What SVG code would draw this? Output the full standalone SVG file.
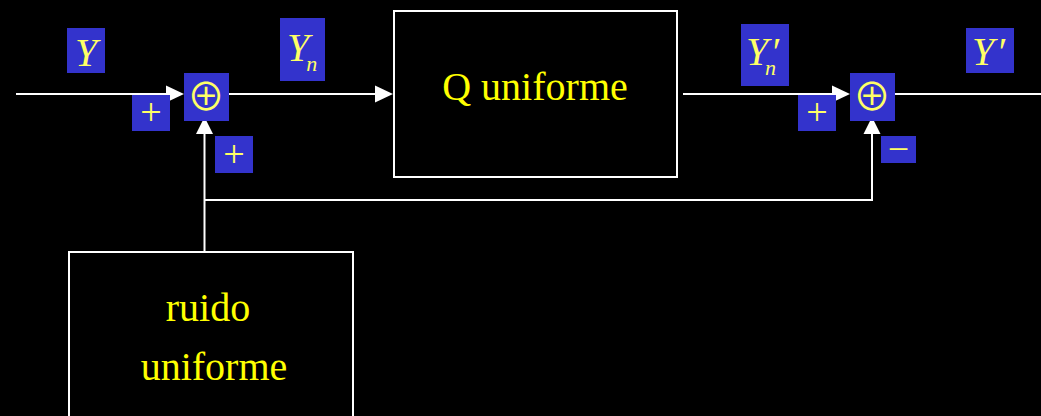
<svg xmlns="http://www.w3.org/2000/svg" width="1041" height="416" viewBox="0 0 1041 416">
<style>
.ln{stroke:#fff;stroke-width:2;fill:none}
.ah{fill:#fff}
.box{fill:#000;stroke:#fff;stroke-width:2}
.tag{fill:#3333cc}
.big{font-family:"Liberation Serif",serif;font-size:40px;fill:#ffff00;text-anchor:middle}
.it{font-family:"Liberation Serif",serif;font-style:italic;fill:#ffff66}
.sym{font-family:"Liberation Serif",serif;font-size:38px;fill:#ffff66;text-anchor:middle}
.op{font-family:"Noto Sans CJK JP","DejaVu Sans",sans-serif;font-size:38px;fill:#ffff66;text-anchor:middle}
</style>
<defs>
<path id="ahR" class="ah" d="M-18,-8.5 L0,0 L-18,8.5 Z"/>
<path id="ahU" class="ah" d="M-8.5,17 L0,0 L8.5,17 Z"/>
</defs>
<rect width="1041" height="416" fill="#000"/>
<g id="connectors">
<line class="ln" x1="16" y1="94" x2="170" y2="94"/>
<use href="#ahR" x="184" y="94"/>
<line class="ln" x1="229" y1="94" x2="380" y2="94"/>
<use href="#ahR" x="393" y="94"/>
<line class="ln" x1="683" y1="94" x2="836" y2="94"/>
<use href="#ahR" x="850" y="94"/>
<line class="ln" x1="895" y1="94" x2="1041" y2="94"/>
<line class="ln" x1="204.5" y1="252" x2="204.5" y2="130"/>
<use href="#ahU" x="204.5" y="117"/>
<polyline class="ln" points="204.5,200 872,200 872,130"/>
<use href="#ahU" x="872" y="117"/>
</g>
<g id="label-Y">
<rect class="tag" x="67" y="28" width="38" height="45"/>
<text class="it" x="86" y="66" font-size="40" text-anchor="middle">Y</text>
</g>
<g id="label-Yn">
<rect class="tag" x="280" y="18" width="45" height="63"/>
<text class="it" x="287" y="61" font-size="40">Y<tspan font-size="22" dy="10" dx="-3">n</tspan></text>
</g>
<g id="sum1">
<rect class="tag" x="184" y="73" width="45" height="48"/>
<text class="op" x="206" y="110">⊕</text>
</g>
<g id="sign1a">
<rect class="tag" x="132" y="95" width="38" height="36"/>
<text class="sym" x="151" y="125">+</text>
</g>
<g id="sign1b">
<rect class="tag" x="215" y="136" width="38" height="37"/>
<text class="sym" x="234" y="167">+</text>
</g>
<g id="quant">
<rect class="box" x="394" y="11" width="283" height="166"/>
<text class="big" x="535" y="100">Q uniforme</text>
</g>
<g id="label-Ynp">
<rect class="tag" x="741" y="24" width="48" height="62"/>
<text class="it" x="746" y="65" font-size="40">Y<tspan dx="2">′</tspan><tspan font-size="22" x="765" y="75">n</tspan></text>
</g>
<g id="sum2">
<rect class="tag" x="850" y="73" width="45" height="48"/>
<text class="op" x="872" y="110">⊕</text>
</g>
<g id="sign2a">
<rect class="tag" x="798" y="95" width="38" height="36"/>
<text class="sym" x="817" y="125">+</text>
</g>
<g id="sign2b">
<rect class="tag" x="881" y="136" width="35" height="27"/>
<text class="sym" x="898.5" y="162">−</text>
</g>
<g id="label-Yp">
<rect class="tag" x="966" y="28" width="48" height="45"/>
<text class="it" x="972" y="65" font-size="40">Y<tspan dx="2">′</tspan></text>
</g>
<g id="noise">
<rect class="box" x="69" y="252" width="284" height="180"/>
<text class="big" x="208" y="321">ruido</text>
<text class="big" x="214" y="380">uniforme</text>
</g>
</svg>
